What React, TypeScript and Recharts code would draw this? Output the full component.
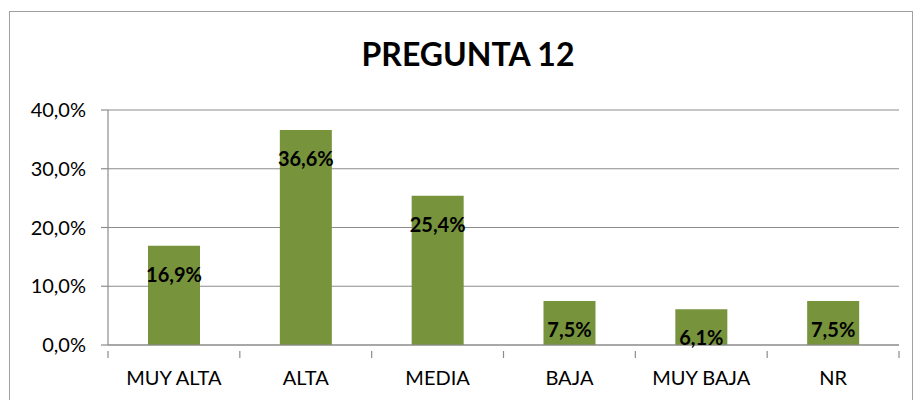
import { BarChart, Bar, XAxis, YAxis, CartesianGrid, LabelList } from "recharts";

const categories = ["MUY ALTA", "ALTA", "MEDIA", "BAJA", "MUY BAJA", "NR"];
const values = [0.169, 0.366, 0.254, 0.075, 0.061, 0.075];
const yTicks = [0, 0.1, 0.2, 0.3, 0.4];

const data = categories.map((name, i) => ({ name, value: values[i] }));

const pct = (v: number) => (v * 100).toFixed(1).replace(".", ",") + "%";

const FONT = "Lato, 'Open Sans', sans-serif";
const GRID = "#8c8c8c";

const WIDTH = 914;
const MARGIN = { top: 110, right: 15, bottom: 25, left: 8 };
const Y_WIDTH = 100;
const STEP = (WIDTH - MARGIN.left - MARGIN.right - Y_WIDTH) / categories.length;

const BarLabel = (props: any) => {
  const { x, y, width, value } = props;
  return (
    <text
      x={x + width / 2}
      y={y + 28}
      textAnchor="middle"
      dominantBaseline="central"
      fontFamily={FONT}
      fontWeight="bold"
      fontSize={20}
      fill="#000"
    >
      {pct(value)}
    </text>
  );
};

// category labels plus the small tick marks Excel puts between categories
const CatTick = (props: any) => {
  const { x, y, payload, index } = props;
  const top = y - 20;
  const left = x - STEP / 2;
  return (
    <g>
      <line x1={left} x2={left} y1={top} y2={top + 7} stroke={GRID} strokeWidth={1.2} />
      {index === categories.length - 1 && (
        <line x1={left + STEP} x2={left + STEP} y1={top} y2={top + 7} stroke={GRID} strokeWidth={1.2} />
      )}
      <text x={x} y={y + 6} textAnchor="middle" dominantBaseline="central" fontFamily={FONT} fontSize={20} fill="#000">
        {payload.value}
      </text>
    </g>
  );
};

export default function App() {
  return (
    <div style={{ position: "absolute", left: 0, top: 0, width: 914, height: 400, overflow: "hidden", background: "#fff" }}>
      <div
        style={{
          position: "absolute",
          left: 9,
          top: 11,
          width: 902,
          height: 400,
          border: "1px solid #a0a0a0",
        }}
      />
      <div
        style={{
          position: "absolute",
          left: 0,
          top: 34,
          width: 936,
          textAlign: "center",
          fontFamily: FONT,
          fontWeight: "bold",
          fontSize: 32,
          color: "#000",
        }}
      >
        PREGUNTA 12
      </div>
      <div style={{ position: "absolute", left: 0, top: 0 }}>
        <BarChart width={WIDTH} height={400} data={data} margin={MARGIN} barCategoryGap={0}>
          <CartesianGrid vertical={false} stroke={GRID} strokeWidth={1.2} />
          <XAxis
            dataKey="name"
            tickLine={false}
            axisLine={{ stroke: GRID, strokeWidth: 1.2 }}
            tick={<CatTick />}
            tickMargin={20}
            height={30}
            interval={0}
          />
          <YAxis
            domain={[0, 0.4]}
            ticks={yTicks}
            tickFormatter={pct}
            width={Y_WIDTH}
            axisLine={{ stroke: GRID, strokeWidth: 1.2 }}
            tickLine={{ stroke: GRID, strokeWidth: 1.2 }}
            tickSize={7}
            tickMargin={15}
            tick={{ fill: "#000", fontSize: 20, fontFamily: FONT }}
          />
          <Bar dataKey="value" fill="#77933C" barSize={52} isAnimationActive={false}>
            <LabelList dataKey="value" content={BarLabel} />
          </Bar>
        </BarChart>
      </div>
    </div>
  );
}
